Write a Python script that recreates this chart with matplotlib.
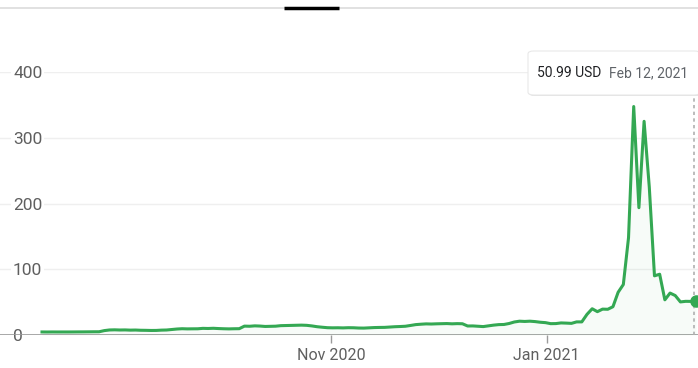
import numpy as np
import pandas as pd
import matplotlib
matplotlib.use('Agg')
import matplotlib.pyplot as plt
from matplotlib.patches import FancyBboxPatch

plt.rcParams['font.family'] = ['Roboto', 'DejaVu Sans']

# trading days shown in the chart
start_day = '2020-08-13'
end_day = '2021-02-12'
holidays = ['2020-09-07', '2020-11-26', '2020-12-25', '2021-01-01', '2021-01-18']

# closing prices (USD), one per trading day, month by month
aug = [4.62, 4.55, 4.62, 4.58, 4.60, 4.59, 4.64, 4.70, 4.74, 4.82, 4.90, 4.93, 6.68]
sep = [7.65, 7.86, 7.60, 7.72, 7.40, 7.55, 7.20, 7.10, 6.90, 6.95, 7.40, 7.60, 8.35,
       9.10, 9.55, 9.30, 9.40, 9.45, 10.10, 9.90, 10.21]
oct_ = [9.8, 9.5, 9.3, 9.5, 9.6, 13.5, 13.3, 13.9, 13.6, 13.0, 13.2, 13.4, 14.2, 14.4,
        14.6, 14.8, 15.0, 14.7, 13.8, 12.6, 11.8, 11.1]
nov = [10.9, 11.0, 10.8, 11.1, 11.0, 10.6, 10.5, 10.9, 11.3, 11.5, 11.6, 12.1, 12.6,
       12.9, 13.3, 14.5, 15.8, 16.4, 16.9, 16.7]
dec = [17.0, 17.2, 17.4, 17.0, 17.3, 17.1, 13.7, 13.8, 13.3, 12.8, 13.9, 15.0, 15.8,
       16.0, 17.5, 19.8, 21.0, 20.6, 21.0, 20.4, 19.4, 18.8]
jan = [17.25, 17.37, 18.36, 18.08, 17.69, 19.94, 19.95, 31.40, 39.91, 35.50, 39.36,
       39.12, 43.03, 65.01, 76.79, 147.98, 347.51, 193.60, 325.00]
feb = [225.00, 90.00, 92.41, 53.50, 63.77, 60.00, 50.31, 51.20, 51.10, 50.99]

y_ticks = [0, 100, 200, 300, 400]
x_tick_dates = ['2020-11-01', '2021-01-01']
x_tick_labels = ['Nov 2020', 'Jan 2021']
tip_price = '50.99 USD'
tip_date = 'Feb 12, 2021'

prices = np.array(aug + sep + oct_ + nov + dec + jan + feb)
days = pd.bdate_range(start_day, end_day, freq='C', holidays=holidays)
idx = np.arange(len(prices))
day_num = days.values.astype('int64')
tick_pos = [np.interp(pd.Timestamp(d).value, day_num, idx) for d in x_tick_dates]

green = '#34a853'
fig = plt.figure(figsize=(6.98, 3.68), dpi=100)
W, H = 698, 368
ax = fig.add_axes([0, (H - 335) / H, 1, (335 - 72) / H])

step = (696 - 42) / (len(prices) - 1)
ax.set_xlim(-42 / step, len(prices) - 1 + 2 / step)
ax.set_ylim(0, 400)

for v in y_ticks[1:]:
    ax.axhline(v, color='#efefef', lw=1, zorder=1)
ax.axhline(0, color='#9a9a9a', lw=1.2, zorder=2)

ax.fill_between(idx, prices, 0, color=green, alpha=0.035, lw=0, zorder=2)
ax.plot(idx, prices, color=green, lw=2.2, zorder=3, solid_joinstyle='round')
ax.plot(idx[-1], prices[-1], 'o', color=green, ms=8, zorder=4, clip_on=False)
ax.axvline(idx[-1] - 0.4, ymin=0, ymax=(335 - 95) / 263, color='#b0b0b0', lw=1.2,
           ls=(0, (2, 2)), zorder=2)

for s in ax.spines.values():
    s.set_visible(False)

ax.set_yticks(y_ticks)
ax.set_yticklabels([str(v) for v in y_ticks])
ax.tick_params(axis='y', length=0, pad=-13 * 0.72, labelsize=12.5, labelcolor='#5f5f5f')
for lab in ax.get_yticklabels():
    lab.set_horizontalalignment('left')
    lab.set_bbox(dict(facecolor='white', edgecolor='none', pad=1.5))
    lab.set_zorder(5)

ax.set_xticks(tick_pos)
ax.set_xticklabels(x_tick_labels)
ax.tick_params(axis='x', length=6, width=1, color='#9a9a9a', pad=3,
               labelsize=11.5, labelcolor='#5f5f5f')

# top tab bar
fig.add_artist(plt.Line2D([0, 1], [1 - 8 / H, 1 - 8 / H], color='#dcdcdc', lw=1.2))
fig.add_artist(plt.Line2D([284 / W, 339 / W], [1 - 8 / H, 1 - 8 / H], color='black',
                          lw=2.5, solid_capstyle='butt'))

# tooltip
shadow = FancyBboxPatch((529 / W, 1 - 96 / H), 172 / W, 44 / H,
                        boxstyle='round,pad=0,rounding_size=0.008',
                        transform=fig.transFigure, facecolor='#e2e2e2', edgecolor='none',
                        zorder=9)
fig.add_artist(shadow)
box = FancyBboxPatch((528 / W, 1 - 95 / H), 172 / W, 44 / H,
                     boxstyle='round,pad=0,rounding_size=0.008',
                     transform=fig.transFigure, facecolor='white', edgecolor='#e8e8e8',
                     lw=0.8, zorder=10)
fig.add_artist(box)
fig.text(537 / W, 1 - 73 / H, tip_price, fontsize=10, color='#202124',
         va='center', ha='left', zorder=11)
fig.text(609 / W, 1 - 73 / H, tip_date, fontsize=10, color='#5f6368',
         va='center', ha='left', zorder=11)

fig.savefig('out.png', dpi=100)
